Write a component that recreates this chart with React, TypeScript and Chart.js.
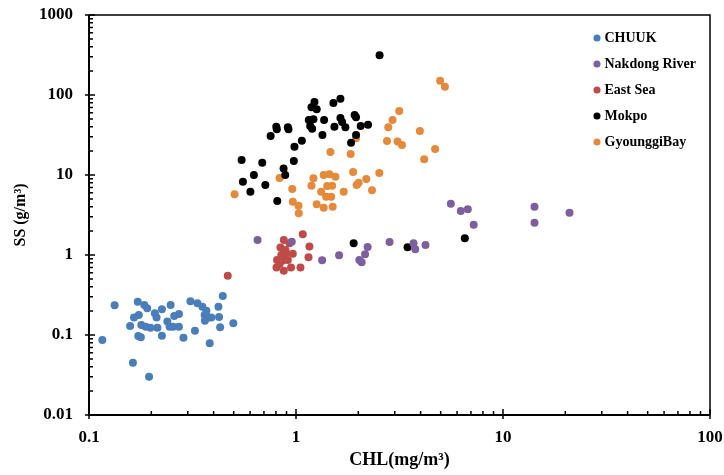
import React, { useEffect, useRef } from "react";
import { Chart, registerables } from "chart.js";

Chart.register(...registerables);

const seriesNames = ["CHUUK", "Nakdong River", "East Sea", "Mokpo", "GyounggiBay"];
const seriesColors = ["#4A7EBB", "#7D5FA0", "#BE4B48", "#000000", "#E5893B"];

const chuukX = [0.116,0.133,0.163,0.195,0.172,0.185,0.191,0.174,0.165,0.158,0.179,0.188,0.198,0.214,0.208,0.212,0.225,0.248,0.173,0.178,0.225,0.239,0.245,0.258,0.272,0.255,0.272,0.286,0.309,0.325,0.334,0.353,0.369,0.362,0.378,0.363,0.390,0.422,0.425,0.430,0.443,0.383,0.498];
const chuukY = [0.0866,0.235,0.0451,0.0301,0.261,0.237,0.216,0.178,0.166,0.130,0.133,0.127,0.123,0.123,0.187,0.166,0.210,0.237,0.0972,0.0935,0.098,0.147,0.127,0.173,0.183,0.127,0.127,0.0925,0.264,0.113,0.249,0.226,0.201,0.178,0.166,0.151,0.166,0.226,0.168,0.125,0.307,0.0788,0.140];

const nakdongX = [0.652,0.954,1.337,1.615,2.218,2.156,2.023,2.076,2.831,3.696,3.767,4.222,5.597,6.253,6.76,7.22,14.2,14.2,20.96];
const nakdongY = [1.54,1.466,0.859,0.991,1.259,1.02,0.866,0.811,1.454,1.40,1.178,1.334,4.38,3.55,3.73,2.39,4.02,2.53,3.38];

const eastSeaX = [0.468,0.873,1.078,0.930,0.841,1.161,0.897,0.965,0.849,0.810,0.864,0.913,1.149,0.805,0.873,0.946,1.051,0.889,0.833];
const eastSeaY = [0.551,1.54,1.815,1.40,1.24,1.28,1.05,1.04,1.0,0.866,0.855,0.866,0.936,0.698,0.637,0.698,0.698,1.155,0.772];

const mokpoX = [2.534,1.228,1.188,1.259,1.516,1.639,1.153,1.214,1.171,1.197,1.367,1.533,1.639,1.670,1.732,1.920,1.950,2.053,2.228,1.342,1.950,1.845,0.803,0.808,0.913,0.920,0.754,1.067,0.983,0.976,0.871,0.887,0.546,0.687,0.626,0.554,0.711,0.602,0.812,1.899,3.458,6.54];
const mokpoY = [313,81.8,70.2,66.3,79.4,89.9,48.7,49.7,41.0,37.9,48.7,40.1,51.6,46.0,39.5,56.2,52.6,41.0,42.5,31.6,31.6,25.3,40.1,37.3,39.5,37.3,30.7,26.8,22.6,15.0,12.1,10.0,15.4,14.2,10.0,8.25,7.50,6.19,4.73,1.40,1.248,1.62];

const gyeonggiX = [4.97,5.24,3.153,2.928,2.791,3.968,2.751,3.094,3.25,4.70,4.163,1.950,1.467,1.837,1.887,2.526,2.186,2.007,1.963,2.329,1.700,1.361,1.450,1.550,1.214,1.188,1.414,1.495,1.323,1.398,1.478,0.833,0.959,0.505,0.965,1.028,1.031,1.259,1.361,1.504];
const gyeonggiY = [151,127,63.1,48.7,39.5,35.5,26.6,26.2,23.7,21.1,15.7,28.7,19.4,18.3,10.9,10.6,8.91,8.01,7.50,6.44,6.19,10.0,10.2,9.52,9.10,7.35,7.31,7.35,6.19,5.35,5.35,9.18,6.68,5.74,4.62,4.13,3.32,4.30,3.90,4.02];

const xTickValues = [0.1, 1, 10, 100];
const xTickLabels = ["0.1", "1", "10", "100"];
const yTickValues = [0.01, 0.1, 1, 10, 100, 1000];
const yTickLabels = ["0.01", "0.1", "1", "10", "100", "1000"];

const xTitle = "CHL(mg/m³)";
const yTitle = "SS (g/m³)";

const FONT = "'Liberation Serif', 'Times New Roman', serif";

const pairs = (xs: number[], ys: number[]) => xs.map((x, i) => ({ x, y: ys[i] }));

const frameAndTicks = {
  id: "frameAndTicks",
  afterDatasetsDraw(chart: any) {
    const { ctx, chartArea } = chart;
    const { left, right, top, bottom } = chartArea;
    const xs = chart.scales.x;
    const ys = chart.scales.y;
    ctx.save();
    ctx.strokeStyle = "#000";
    ctx.lineWidth = 1.5;
    ctx.beginPath();
    ctx.moveTo(left, top);
    ctx.lineTo(right, top);
    ctx.lineTo(right, bottom);
    ctx.stroke();
    ctx.lineWidth = 2;
    ctx.beginPath();
    ctx.moveTo(left, top);
    ctx.lineTo(left, bottom);
    ctx.lineTo(right, bottom);
    ctx.stroke();
    ctx.lineWidth = 1.5;
    ctx.beginPath();
    for (let d = -1; d <= 2; d++) {
      const p = xs.getPixelForValue(Math.pow(10, d));
      ctx.moveTo(p, bottom - 6);
      ctx.lineTo(p, bottom + 4);
      if (d < 2) {
        for (let k = 2; k <= 9; k++) {
          const q = xs.getPixelForValue(k * Math.pow(10, d));
          ctx.moveTo(q, bottom);
          ctx.lineTo(q, bottom - 4);
        }
      }
    }
    for (let d = -2; d <= 3; d++) {
      const p = ys.getPixelForValue(Math.pow(10, d));
      ctx.moveTo(left - 4, p);
      ctx.lineTo(left + 6, p);
      if (d < 3) {
        for (let k = 2; k <= 9; k++) {
          const q = ys.getPixelForValue(k * Math.pow(10, d));
          ctx.moveTo(left, q);
          ctx.lineTo(left + 4, q);
        }
      }
    }
    ctx.stroke();
    ctx.restore();
  },
};

const legendPlace = {
  id: "legendPlace",
  afterLayout(chart: any) {
    const l = chart.legend;
    if (!l) return;
    const w = l.width;
    const h = l.height;
    l.left = 584.5;
    l.top = 19;
    l.right = l.left + w;
    l.bottom = l.top + h;
  },
};

export default function App() {
  const ref = useRef<HTMLCanvasElement | null>(null);

  useEffect(() => {
    document.body.style.margin = "0";
    const canvas = ref.current;
    if (!canvas) return;
    const allX = [chuukX, nakdongX, eastSeaX, mokpoX, gyeonggiX];
    const allY = [chuukY, nakdongY, eastSeaY, mokpoY, gyeonggiY];
    const chart = new Chart(canvas, {
      type: "scatter",
      data: {
        datasets: seriesNames.map((name, i) => ({
          label: name,
          data: pairs(allX[i], allY[i]),
          backgroundColor: seriesColors[i],
          borderColor: seriesColors[i],
          borderWidth: 0,
          pointRadius: 4,
          pointHoverRadius: 4,
          pointStyle: "circle",
        })),
      },
      options: {
        animation: false,
        responsive: false,
        devicePixelRatio: 1,
        layout: { padding: { left: 0, top: 15, right: 14, bottom: 0 } },
        plugins: {
          tooltip: { enabled: false },
          legend: {
            position: "chartArea" as any,
            fullSize: false,
            align: "start",
            labels: {
              usePointStyle: true,
              boxWidth: 1,
              boxHeight: 5,
              padding: 12,
              color: "#000",
              font: { family: FONT, size: 14, weight: "bold" },
            },
          },
        },
        scales: {
          x: {
            type: "logarithmic",
            position: "bottom",
            min: 0.1,
            max: 100,
            grid: { display: false, drawTicks: false },
            border: { display: false },
            afterBuildTicks: (scale: any) => {
              scale.ticks = xTickValues.map((v) => ({ value: v }));
            },
            afterFit: (scale: any) => {
              scale.height = 60;
              scale.paddingLeft = 0;
              scale.paddingRight = 0;
              scale.paddingTop = 0;
              scale.paddingBottom = 0;
            },
            ticks: {
              autoSkip: false,
              maxRotation: 0,
              padding: 12,
              color: "#000",
              font: { family: FONT, size: 17, weight: "bold" },
              callback: (_v: any, i: number) => xTickLabels[i],
            },
            title: {
              display: true,
              text: xTitle,
              color: "#000",
              font: { family: FONT, size: 18, weight: "bold" },
              padding: { top: 0, bottom: 4 },
            },
          },
          y: {
            type: "logarithmic",
            position: "left",
            min: 0.01,
            max: 1000,
            grid: { display: false, drawTicks: false },
            border: { display: false },
            afterBuildTicks: (scale: any) => {
              scale.ticks = yTickValues.map((v) => ({ value: v }));
            },
            afterFit: (scale: any) => {
              scale.width = 89;
              scale.paddingLeft = 0;
              scale.paddingRight = 0;
              scale.paddingTop = 0;
              scale.paddingBottom = 0;
            },
            ticks: {
              autoSkip: false,
              padding: 16,
              color: "#000",
              font: { family: FONT, size: 17, weight: "bold" },
              callback: (_v: any, i: number) => yTickLabels[i],
            },
            title: {
              display: true,
              text: yTitle,
              color: "#000",
              font: { family: FONT, size: 16, weight: "bold" },
              padding: { top: 11, bottom: 0 },
            },
          },
        },
      },
      plugins: [frameAndTicks, legendPlace],
    });
    return () => chart.destroy();
  }, []);

  return (
    <div style={{ width: 724, height: 475, background: "#fff" }}>
      <canvas ref={ref} width={724} height={475} style={{ display: "block" }} />
    </div>
  );
}
